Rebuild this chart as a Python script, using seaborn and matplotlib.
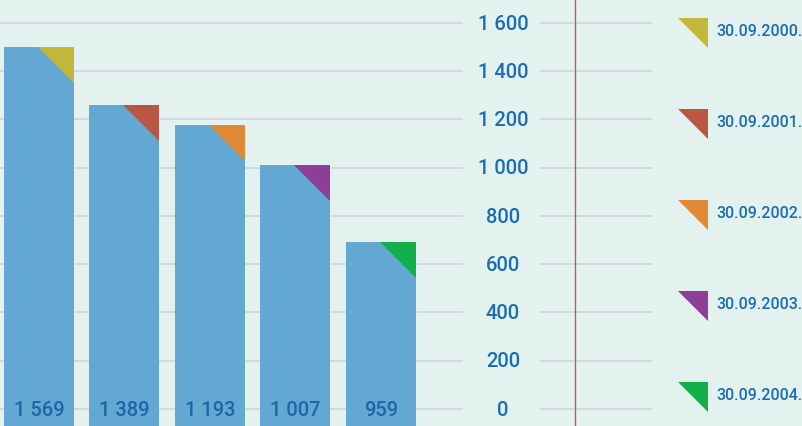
import matplotlib
matplotlib.use("Agg")
import matplotlib.pyplot as plt
from matplotlib.patches import Polygon
import pandas as pd
import seaborn as sns

# valeurs
dates = ["30.09.2000.", "30.09.2001.", "30.09.2002.", "30.09.2003.", "30.09.2004."]
hauteurs = [1500, 1258, 1179, 1012, 691]
etiquettes = ["1 569", "1 389", "1 193", "1 007", "959"]
couleurs_coin = ["#C4B83A", "#B95745", "#E08A35", "#8D3F98", "#12B04B"]
graduations = [0, 200, 400, 600, 800, 1000, 1200, 1400, 1600]
etiquettes_axe = ["0", "200", "400", "600", "800", "1 000", "1 200", "1 400", "1 600"]

FOND = "#E3F2EF"
BLEU_BARRE = "#62A8D3"
BLEU_TEXTE = "#1A6DB3"
GRILLE = "#D0D3D6"

W, H = 803, 426


def px(x):
    return x / W


def py(y):
    return 1 - y / H


def main():
    sns.set_style("white")
    plt.rcParams["font.family"] = ["Roboto", "DejaVu Sans"]

    fig = plt.figure(figsize=(W / 100, H / 100), dpi=100, facecolor=FOND)
    ax = fig.add_axes([0, 0, 1, 1])
    ax.set_facecolor(FOND)

    df = pd.DataFrame({"date": dates, "valeur": hauteurs})
    sns.barplot(data=df, x="date", y="valeur", color=BLEU_BARRE, saturation=1,
                width=0.819, linewidth=0, edgecolor="none", ax=ax, zorder=2)

    y_bas, y_haut = -70.5, 1695.3
    ax.set_ylim(y_bas, y_haut)
    ax.set_xlim(-0.456, 8.936)
    ax.axis("off")

    # barres prolongées jusqu'en bas de l'image
    dx = 36 / 85.5
    dy = 36 / 0.24125
    for p, h, lab, c in zip(ax.patches, hauteurs, etiquettes, couleurs_coin):
        p.set_y(y_bas)
        p.set_height(h - y_bas)
        droite = p.get_x() + p.get_width()
        ax.add_patch(Polygon([(droite - dx, h), (droite, h), (droite, h - dy)],
                             closed=True, facecolor=c, edgecolor="none", zorder=3))
        ax.text(p.get_x() + p.get_width() / 2, -5, lab, ha="center", va="center",
                fontsize=14.5, fontweight="medium", color="#1B67A8", zorder=4)

    # grille et graduations
    tr = ax.get_yaxis_transform()
    ax.hlines(graduations, 0, px(463), transform=tr, color=GRILLE, lw=1.1, zorder=1)
    ax.hlines(graduations, px(540), px(652), transform=tr, color=GRILLE, lw=1.1, zorder=1)
    for t, lab in zip(graduations, etiquettes_axe):
        ax.text(px(503), t - 5, lab, transform=tr, ha="center", va="center",
                fontsize=14.5, fontweight="medium", color=BLEU_TEXTE)

    ax.plot([px(575), px(575)], [0, 1], transform=ax.transAxes, color="#C9544C", lw=1)

    # légende
    for i, (d, c) in enumerate(zip(dates, couleurs_coin)):
        haut = 18 + 91 * i
        tri = [(px(678), py(haut)), (px(708), py(haut)), (px(708), py(haut + 30))]
        ax.add_patch(Polygon(tri, closed=True, facecolor=c, edgecolor="none",
                             transform=ax.transAxes))
        ax.text(px(716), py(haut + 13.5), d, transform=ax.transAxes, ha="left", va="center",
                fontsize=11.5, fontweight="medium", color=BLEU_TEXTE)

    fig.savefig("out.png", dpi=100, facecolor=FOND)


if __name__ == "__main__":
    main()
